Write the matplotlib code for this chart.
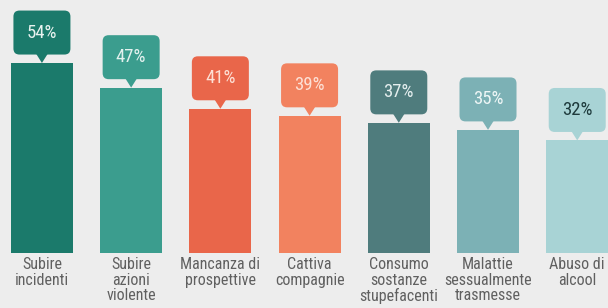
import matplotlib
matplotlib.use("Agg")
import matplotlib.pyplot as plt
from matplotlib.patches import FancyBboxPatch, Polygon
from matplotlib import font_manager

categories = ["Subire\nincidenti", "Subire\nazioni\nviolente", "Mancanza di\nprospettive",
              "Cattiva\ncompagnie", "Consumo\nsostanze\nstupefacenti",
              "Malattie\nsessualmente\ntrasmesse", "Abuso di\nalcool"]
values = [54, 47, 41, 39, 37, 35, 32]
value_labels = ["54%", "47%", "41%", "39%", "37%", "35%", "32%"]

bar_colors = ["#1b7a6b", "#3b9d8e", "#e9664a", "#f2825f", "#4f7c7d", "#7cb1b5", "#a8d3d5"]
text_colors = ["#e8f2ef", "#e3f1ee", "#fde0d5", "#fde0d5", "#e4eeee", "#eef6f6", "#1e3a3c"]

names = {f.name for f in font_manager.fontManager.ttflist}
fam = "DejaVu Sans"
for cand in ["Liberation Sans Narrow", "Arial Narrow", "Roboto Condensed",
             "Archivo Narrow", "Barlow Condensed"]:
    if cand in names:
        fam = cand
        break

bg = "#ededed"
fig = plt.figure(figsize=(6.08, 3.08), dpi=100, facecolor=bg)
ax = fig.add_axes([0, 55 / 308, 1, 253 / 308])
ax.set_facecolor(bg)

x = list(range(len(values)))
w = 0.695
ax.bar(x, values, width=w, color=bar_colors, zorder=2)

ax.set_xlim(-0.47, 6.345)
ax.set_ylim(0, 71.9)

px_x = 608 / (6.345 + 0.47)
px_y = 253 / 71.9
aspect = px_x / px_y

box_w = 57 / px_x
box_h = 12.5
ptr = 2.4
ptr_w = 12 / px_x / 2
rad = 6 / px_x

for xi, v, lab, c, tc in zip(x, values, value_labels, bar_colors, text_colors):
    b0 = v + ptr
    box = FancyBboxPatch((xi - box_w / 2 + rad, b0 + rad * aspect),
                         box_w - 2 * rad, box_h - 2 * rad * aspect,
                         boxstyle=f"round,pad={rad},rounding_size={rad}",
                         mutation_aspect=aspect, facecolor=c, edgecolor="none",
                         zorder=3)
    ax.add_patch(box)
    tri = Polygon([(xi - ptr_w, b0 + 0.3), (xi + ptr_w, b0 + 0.3), (xi, v)],
                  closed=True, facecolor=c, edgecolor="none", zorder=3)
    ax.add_patch(tri)
    ax.text(xi, b0 + box_h / 2, lab, ha="center", va="center", color=tc,
            fontsize=13.5, family=fam, zorder=4)

ax.set_xticks(x)
ax.set_xticklabels(categories, family=fam, fontsize=11.5, color="#606060",
                   linespacing=1.05)
ax.tick_params(axis="x", length=0, pad=3)
ax.set_yticks([])
for s in ax.spines.values():
    s.set_visible(False)

fig.savefig("out.png", dpi=100, facecolor=bg)
